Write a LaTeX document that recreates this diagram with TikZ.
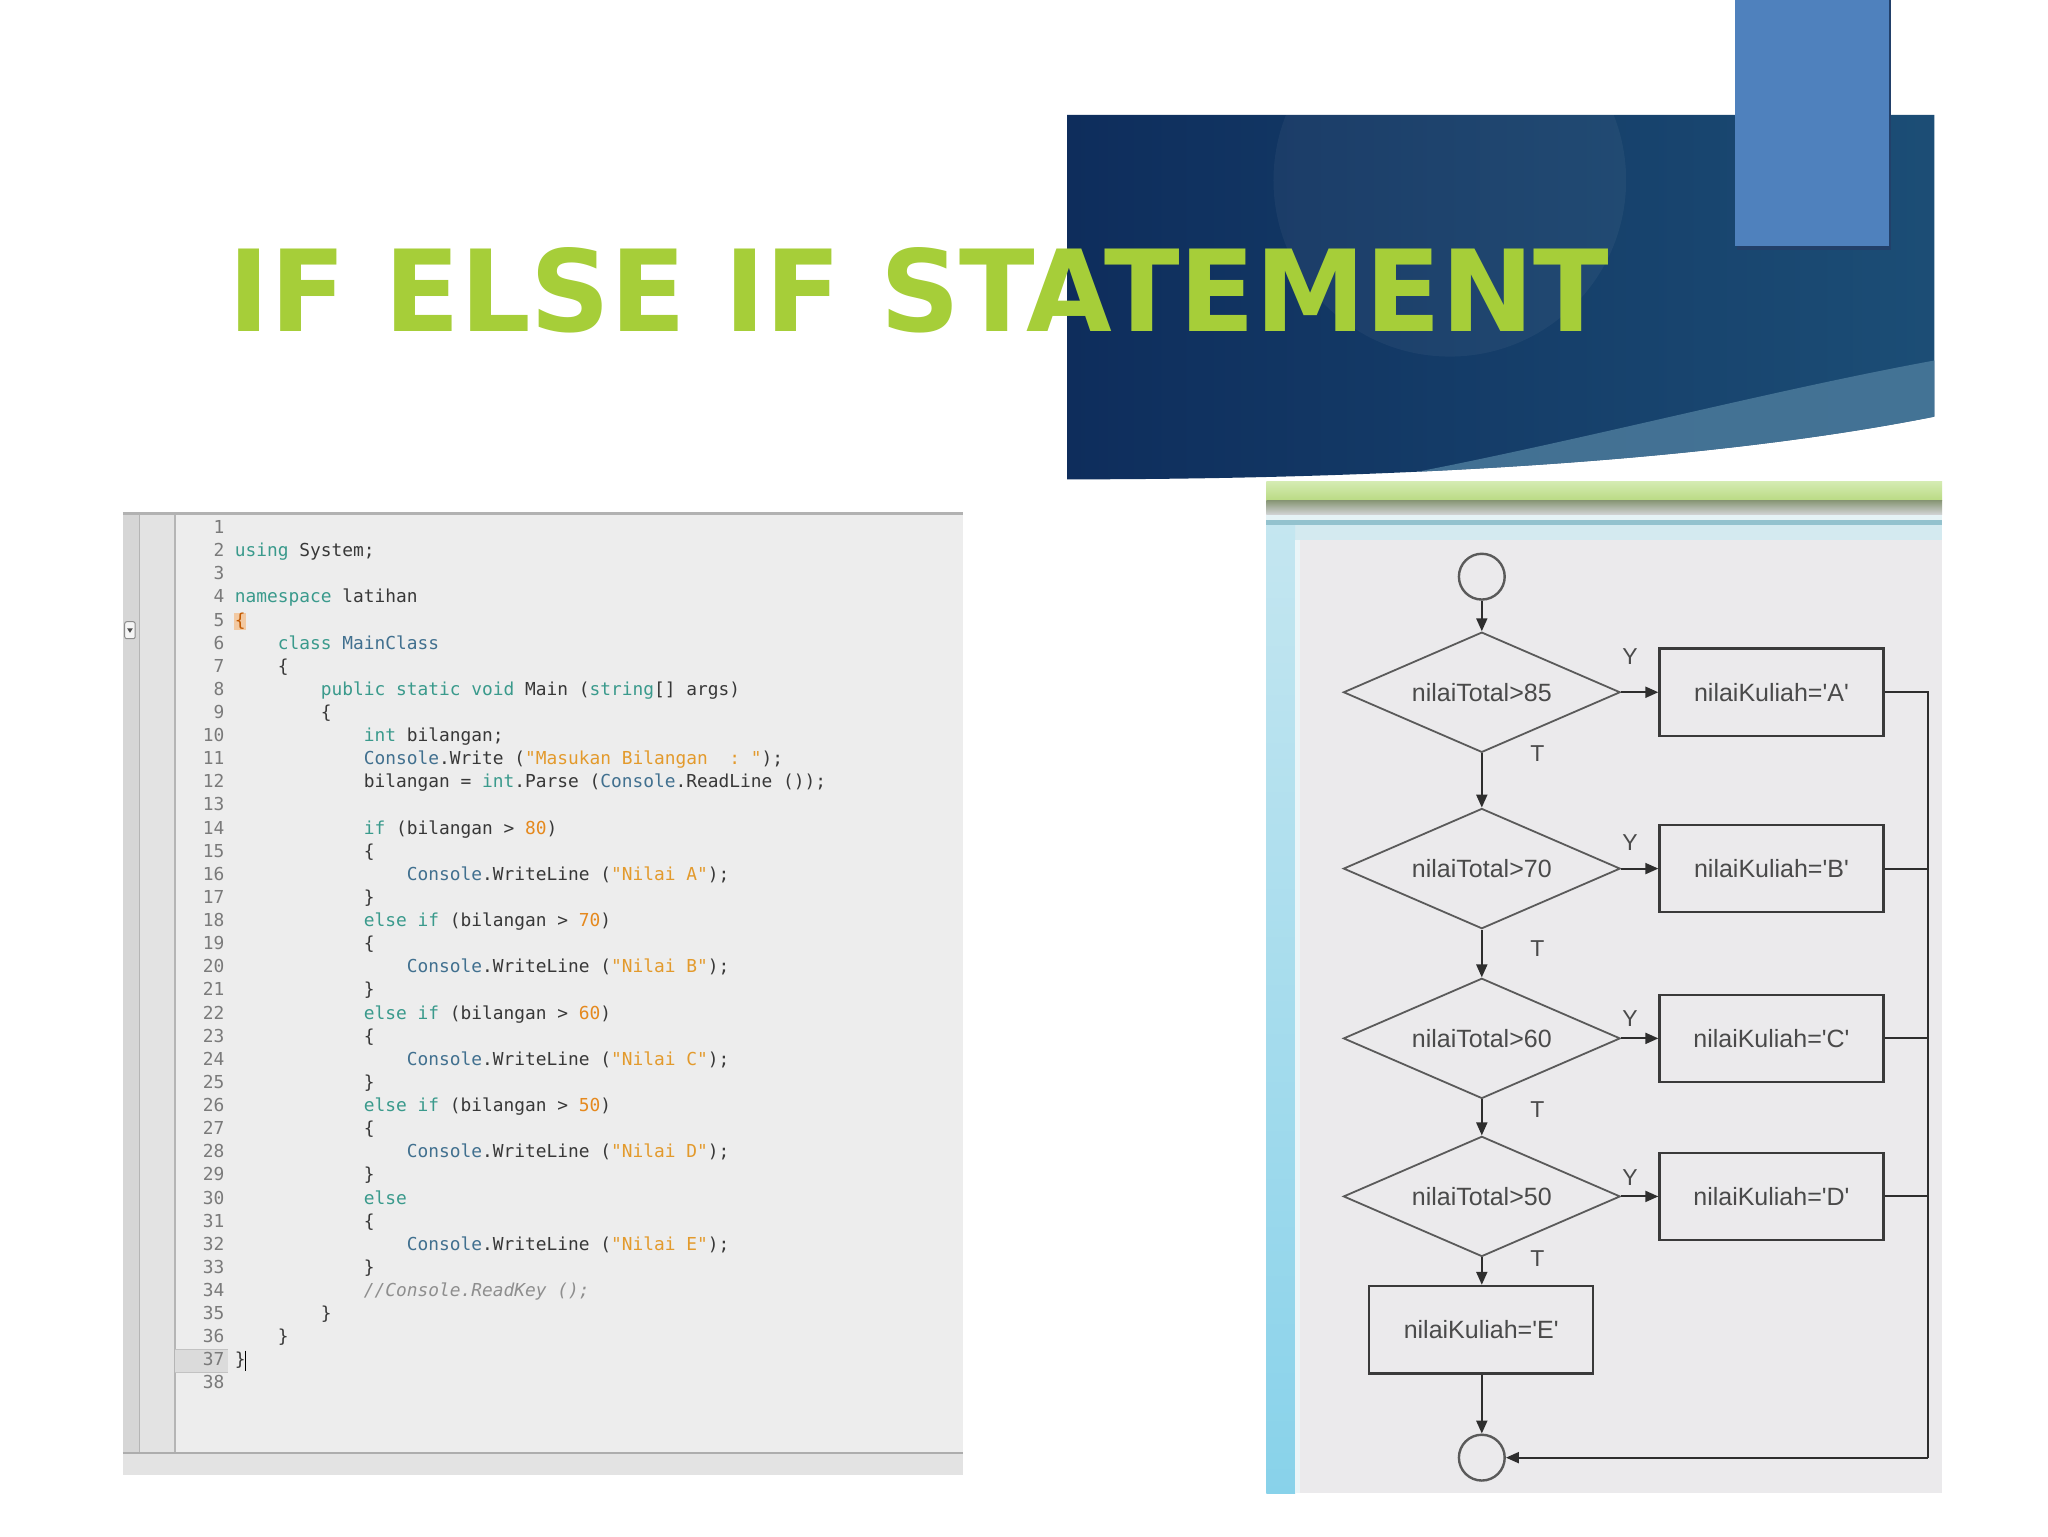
\documentclass[tikz,border=0pt]{standalone}
\usepackage{fontspec}
\usetikzlibrary{shapes.geometric,arrows.meta}
\newfontfamily\titlefont{DejaVu Sans}
\newfontfamily\codefont[Ligatures=TeXOff]{DejaVu Sans Mono}
\newfontfamily\fcfont[Ligatures=TeXOff]{Liberation Sans}
\definecolor{titlegreen}{HTML}{A6CE39}
\definecolor{hdL}{HTML}{0E2D5C}
\definecolor{hdR}{HTML}{1C4E76}
\definecolor{hdband}{HTML}{4B7A9B}
\definecolor{lbrect}{HTML}{4F81BD}
\definecolor{lbshadow}{HTML}{22406A}
\definecolor{kw}{HTML}{3A9A8C}
\definecolor{ty}{HTML}{41708F}
\definecolor{st}{HTML}{E39A2C}
\definecolor{nm}{HTML}{E5891E}
\definecolor{cm}{HTML}{8E8E8E}
\definecolor{tx}{HTML}{383838}
\definecolor{lnc}{HTML}{7A7A7A}
\definecolor{codebg}{HTML}{EDEDED}
\definecolor{gutA}{HTML}{D6D6D6}
\definecolor{gutB}{HTML}{E3E3E3}
\definecolor{gutline}{HTML}{B5B5B5}
\definecolor{bracehl}{HTML}{F2C9A2}
\definecolor{bracec}{HTML}{C45A00}
\definecolor{fcbg}{HTML}{EBEAEC}
\definecolor{grtop}{HTML}{D4EBB2}
\definecolor{grbot}{HTML}{B9DA82}
\definecolor{shtop}{HTML}{8A9878}
\definecolor{shbot}{HTML}{D2D4D6}
\definecolor{bluln}{HTML}{93C2CE}
\definecolor{lbband}{HTML}{D4EAF0}
\definecolor{lstop}{HTML}{C4E6F0}
\definecolor{lsbot}{HTML}{88D2EA}
\definecolor{ftx}{HTML}{4A4A4A}
\definecolor{dline}{HTML}{5A5A5A}
\definecolor{bline}{HTML}{3A3A3A}
\definecolor{aline}{HTML}{2E2E2E}
\newcommand\kwd[1]{\textcolor{kw}{#1}}
\newcommand\ctyp[1]{\textcolor{ty}{#1}}
\newcommand\cstr[1]{\textcolor{st}{#1}}
\newcommand\cnum[1]{\textcolor{nm}{#1}}
\newcommand\ccmt[1]{\textcolor{cm}{\itshape #1}}
\newcommand\codeline[3]{\node[codeline] (c#1) at ({179.5+#2*8.23},{408.5+(#1-1)*17.7}) {#3};}
\tikzset{
  codeline/.style={anchor=base west, inner sep=0pt, text=tx, font=\codefont\fontsize{8.93}{10}\selectfont\frenchspacing},
  lnum/.style={anchor=base east, inner sep=0pt, text=lnc, font=\codefont\fontsize{8.93}{10}\selectfont},
  dec/.style={diamond, shape aspect=2.3, draw=dline, line width=0.9pt, minimum width=138.4pt, minimum height=60.1pt, inner sep=0pt, text=ftx, font=\fcfont\fontsize{12.5}{14}\selectfont},
  proc/.style={rectangle, draw=bline, line width=1.1pt, minimum width=112pt, minimum height=43.75pt, inner sep=0pt, text=ftx, font=\fcfont\fontsize{12.5}{14}\selectfont},
  term/.style={circle, draw=dline, line width=1.2pt, minimum size=22.9pt, inner sep=0pt},
  lbl/.style={inner sep=0pt, text=ftx, font=\fcfont\fontsize{11.5}{13}\selectfont},
  conn/.style={draw=aline, line width=1pt},
  arr/.style={conn, -{Triangle[length=6.5pt,width=5.5pt]}},
}
\begin{document}
\begin{tikzpicture}[x=0.65306pt, y=-0.65306pt]
\useasboundingbox (0,0) rectangle (1568,1176);
\fill[white] (0,0) rectangle (1568,1176);

% ---------- header panel ----------
\begin{scope}
  \clip (817,88) -- (1481,88) -- (1481,319) .. controls (1300,355) and (1050,367) .. (817,367) -- cycle;
  \shade[left color=hdL, right color=hdR] (817,80) rectangle (1490,375);
  \fill[white, opacity=0.045] (1110,138) circle (135);
  \fill[hdband, opacity=0.85] (1060,366) .. controls (1200,340) and (1350,300) .. (1481,276) -- (1490,276) -- (1490,380) -- (1060,380) -- cycle;
\end{scope}
\fill[lbshadow] (1330,0) rectangle (1448,191.5);
\fill[lbrect] (1328.5,0) rectangle (1446,188.5);

% ---------- title ----------
\node[anchor=south west, inner sep=0pt, text=titlegreen] (title) at (175,255)
  {\resizebox{690pt}{42pt}{\titlefont\bfseries IF ELSE IF STATEMENT}};

% ---------- code panel ----------
\fill[codebg] (94,392) rectangle (737,1129.5);
\fill[gutA] (94,392) rectangle (107,1112.6);
\fill[gutB] (107,392) rectangle (134,1112.6);
\draw[gutline, line width=0.7pt] (107,393) -- (107,1112.6);
\draw[gutline, line width=0.7pt] (134,393) -- (134,1112.6);
\fill[gutB] (94,1112.6) rectangle (737,1129.5);
\draw[black!32, line width=1.1pt] (94,1112.6) -- (737,1112.6);
\draw[black!30, line width=1.4pt] (94,393) -- (737,393);
% fold marker
\draw[black!45, fill=black!4, line width=0.5pt, rounded corners=1pt] (95.5,476) rectangle (103.5,489) node[midway, inner sep=0pt] (fold) {};
\fill[black!70] (97.3,481) -- (101.7,481) -- (99.5,484.5) -- cycle;
% current line highlight
\fill[black!14] (134,1033) rectangle (174.6,1050.5);
\draw[black!24, line width=0.5pt] (134,1033) -- (174.6,1033);
\draw[black!24, line width=0.5pt] (134,1050.5) -- (174.6,1050.5);
% line numbers
\foreach \k in {1,...,38} {\node[lnum] (n\k) at (172,{408.5+(\k-1)*17.7}) {\k};}
% brace highlight line 5
\fill[bracehl] (179,469) rectangle (188,482.5);
% code
\codeline{2}{0}{\kwd{using} System;}
\codeline{4}{0}{\kwd{namespace} latihan}
\codeline{5}{0}{\textcolor{bracec}{\{}}
\codeline{6}{4}{\kwd{class} \ctyp{MainClass}}
\codeline{7}{4}{\{}
\codeline{8}{8}{\kwd{public static void} Main (\kwd{string}[] args)}
\codeline{9}{8}{\{}
\codeline{10}{12}{\kwd{int} bilangan;}
\codeline{11}{12}{\ctyp{Console}.Write (\cstr{"Masukan Bilangan\ \ :\ "});}
\codeline{12}{12}{bilangan = \kwd{int}.Parse (\ctyp{Console}.ReadLine ());}
\codeline{14}{12}{\kwd{if} (bilangan > \cnum{80})}
\codeline{15}{12}{\{}
\codeline{16}{16}{\ctyp{Console}.WriteLine (\cstr{"Nilai A"});}
\codeline{17}{12}{\}}
\codeline{18}{12}{\kwd{else if} (bilangan > \cnum{70})}
\codeline{19}{12}{\{}
\codeline{20}{16}{\ctyp{Console}.WriteLine (\cstr{"Nilai B"});}
\codeline{21}{12}{\}}
\codeline{22}{12}{\kwd{else if} (bilangan > \cnum{60})}
\codeline{23}{12}{\{}
\codeline{24}{16}{\ctyp{Console}.WriteLine (\cstr{"Nilai C"});}
\codeline{25}{12}{\}}
\codeline{26}{12}{\kwd{else if} (bilangan > \cnum{50})}
\codeline{27}{12}{\{}
\codeline{28}{16}{\ctyp{Console}.WriteLine (\cstr{"Nilai D"});}
\codeline{29}{12}{\}}
\codeline{30}{12}{\kwd{else}}
\codeline{31}{12}{\{}
\codeline{32}{16}{\ctyp{Console}.WriteLine (\cstr{"Nilai E"});}
\codeline{33}{12}{\}}
\codeline{34}{12}{\ccmt{//Console.ReadKey ();}}
\codeline{35}{8}{\}}
\codeline{36}{4}{\}}
\codeline{37}{0}{\}}
\draw[black, line width=0.6pt] (188,1034) -- (188,1049.5);

% ---------- flowchart panel ----------
\fill[fcbg] (969.5,368.8) rectangle (1487,1143.2);
\shade[top color=grtop, bottom color=grbot] (969.5,368.8) rectangle (1487,383.5);
\shade[top color=shtop, bottom color=shbot] (969.5,383.5) rectangle (1487,394);
\fill[lbband!60!white] (969.5,394) rectangle (1487,398);
\fill[bluln] (969.5,398) rectangle (1487,402);
\fill[lbband] (969.5,402) rectangle (1487,413.5);
\shade[top color=lstop, bottom color=lsbot] (969.5,402) rectangle (991.5,1143.2);
\fill[lbband!50!white] (991.5,413.5) rectangle (995,1143.2);

\node[term] (start) at (1134.5,441.5) {};
\node[dec] (d1) at (1134.5,530) {nilaiTotal>85};
\node[dec] (d2) at (1134.5,665) {nilaiTotal>70};
\node[dec] (d3) at (1134.5,795) {nilaiTotal>60};
\node[dec] (d4) at (1134.5,916) {nilaiTotal>50};
\node[proc] (pa) at (1356.25,530) {nilaiKuliah='A'};
\node[proc] (pb) at (1356.25,665) {nilaiKuliah='B'};
\node[proc] (pc) at (1356.25,795) {nilaiKuliah='C'};
\node[proc] (pd) at (1356.25,916) {nilaiKuliah='D'};
\node[proc] (pe) at (1134,1018) {nilaiKuliah='E'};
\node[term] (stop) at (1134.5,1116) {};
\coordinate (rtop) at (1476,530);
\coordinate (rbot) at (1476,1116);

\draw[arr] (start) -- (d1.north);
\draw[arr] (d1.south) -- (d2.north);
\draw[arr] (d2.south) -- (d3.north);
\draw[arr] (d3.south) -- (d4.north);
\draw[arr] (d4.south) -- (pe.north -| d4.south);
\draw[arr] (pe.south -| stop) -- (stop);
\draw[arr] (d1.east) -- (pa.west);
\draw[arr] (d2.east) -- (pb.west);
\draw[arr] (d3.east) -- (pc.west);
\draw[arr] (d4.east) -- (pd.west);
\draw[conn] (pa.east) -- (rtop) -- (rbot);
\draw[conn] (pb.east) -- (pb.east -| rtop);
\draw[conn] (pc.east) -- (pc.east -| rtop);
\draw[conn] (pd.east) -- (pd.east -| rtop);
\draw[arr] (rbot) -- (stop.east);

\node[lbl] (y1) at (1248,503) {Y};
\node[lbl] (y2) at (1248,645) {Y};
\node[lbl] (y3) at (1248,779.6) {Y};
\node[lbl] (y4) at (1248,901.5) {Y};
\node[lbl] (t1) at (1177,576.6) {T};
\node[lbl] (t2) at (1177,726.5) {T};
\node[lbl] (t3) at (1177,849.5) {T};
\node[lbl] (t4) at (1177,963.8) {T};
\end{tikzpicture}
\end{document}
